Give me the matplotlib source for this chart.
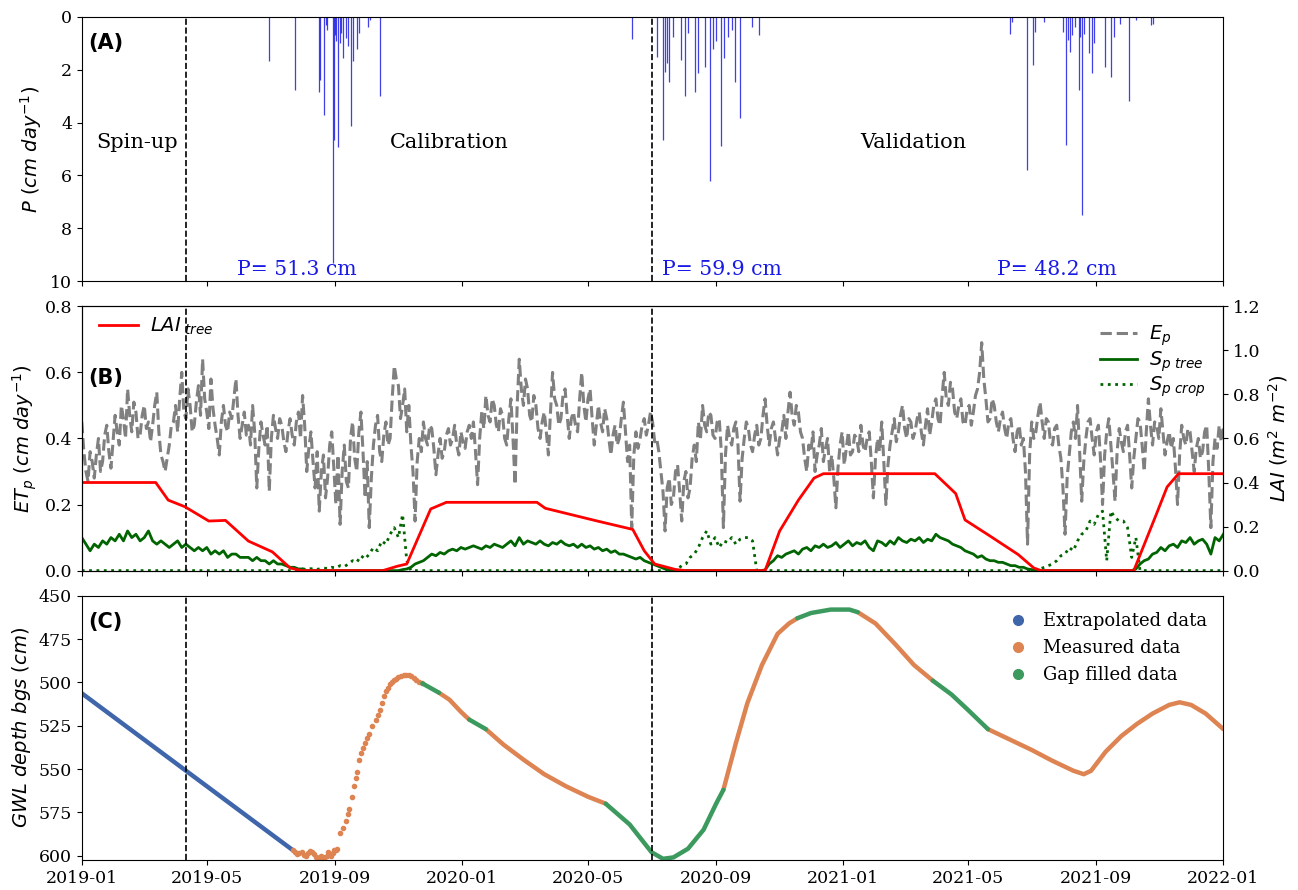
import matplotlib
matplotlib.use("Agg")
import matplotlib.pyplot as plt
import matplotlib.dates as mdates
from matplotlib.lines import Line2D
import pandas as pd

plt.rcParams['font.family'] = ['DejaVu Serif']
plt.rcParams['mathtext.fontset'] = 'dejavusans'
plt.rcParams['axes.unicode_minus'] = False

# ---- (A) daily precipitation, cm/day ----
rain_dates = ['2019-06-30', '2019-07-25', '2019-08-17', '2019-08-18', '2019-08-22', '2019-08-23',
              '2019-08-24', '2019-08-30', '2019-08-31', '2019-09-01', '2019-09-02', '2019-09-04',
              '2019-09-06', '2019-09-07', '2019-09-09', '2019-09-12', '2019-09-14', '2019-09-16',
              '2019-09-18', '2019-09-22', '2019-09-24', '2019-10-03', '2019-10-05', '2019-10-14',
              '2020-06-12', '2020-07-06', '2020-07-12', '2020-07-14', '2020-07-16', '2020-07-18',
              '2020-07-22', '2020-07-29', '2020-08-02', '2020-08-05', '2020-08-12', '2020-08-15',
              '2020-08-21', '2020-08-26', '2020-08-29', '2020-09-01', '2020-09-06', '2020-09-09',
              '2020-09-12', '2020-09-16', '2020-09-19', '2020-09-24', '2020-10-05', '2020-10-12',
              '2021-06-10', '2021-06-12', '2021-06-26', '2021-07-02', '2021-07-04', '2021-07-13',
              '2021-07-31', '2021-08-03', '2021-08-05', '2021-08-07', '2021-08-09', '2021-08-12',
              '2021-08-15', '2021-08-16', '2021-08-18', '2021-08-20', '2021-08-25', '2021-08-28',
              '2021-08-30', '2021-09-09', '2021-09-15', '2021-09-18', '2021-09-24', '2021-10-02',
              '2021-10-09', '2021-10-24', '2021-10-25']
rain = [1.67, 2.77, 2.83, 2.40, 3.71, 0.30,
        0.50, 9.30, 4.65, 0.70, 0.90, 4.94,
        1.00, 0.60, 1.57, 0.80, 1.10, 4.11,
        1.67, 1.23, 0.60, 0.40, 0.10, 3.00,
        0.82, 1.50, 4.65, 2.10, 1.76, 2.45,
        0.75, 1.64, 3.00, 0.60, 2.83, 2.14,
        1.90, 6.20, 1.20, 0.90, 4.90, 1.57,
        0.75, 0.50, 2.45, 3.84, 0.38, 0.70,
        0.63, 0.20, 5.80, 1.82, 0.57, 0.20,
        0.57, 4.84, 0.88, 1.32, 0.70, 0.38,
        2.77, 0.75, 7.50, 0.63, 1.38, 2.14,
        1.00, 1.90, 2.27, 0.75, 0.25, 3.20,
        0.13, 0.30, 0.25]
period_totals = ['P= 51.3 cm', 'P= 59.9 cm', 'P= 48.2 cm']

# ---- (B) potential evaporation, cm/day, every 2 days from 2019-01-01 ----
ep = [0.45, 0.36, 0.30, 0.27, 0.36, 0.33, 0.28, 0.35, 0.40, 0.30, 0.33, 0.41, 0.44, 0.36, 0.31, 0.39, 0.47, 0.42, 0.38, 0.50,
      0.46, 0.40, 0.55, 0.47, 0.42, 0.51, 0.48, 0.40, 0.41, 0.47, 0.50, 0.43, 0.45, 0.39, 0.44, 0.50, 0.54, 0.42, 0.35, 0.33,
      0.30, 0.34, 0.38, 0.44, 0.45, 0.50, 0.42, 0.52, 0.60, 0.48, 0.46, 0.55, 0.50, 0.42, 0.44, 0.51, 0.56, 0.47, 0.64, 0.52,
      0.48, 0.43, 0.58, 0.49, 0.44, 0.40, 0.35, 0.45, 0.50, 0.44, 0.42, 0.48, 0.46, 0.52, 0.58, 0.47, 0.40, 0.44, 0.48, 0.41,
      0.44, 0.38, 0.50, 0.42, 0.25, 0.37, 0.45, 0.41, 0.38, 0.44, 0.24, 0.40, 0.47, 0.43, 0.40, 0.46, 0.44, 0.39, 0.36, 0.42,
      0.46, 0.41, 0.38, 0.45, 0.48, 0.40, 0.53, 0.44, 0.30, 0.37, 0.42, 0.33, 0.25, 0.36, 0.18, 0.30, 0.35, 0.22, 0.28, 0.38,
      0.42, 0.31, 0.20, 0.35, 0.14, 0.30, 0.38, 0.27, 0.25, 0.40, 0.45, 0.34, 0.30, 0.42, 0.48, 0.36, 0.22, 0.33, 0.13, 0.28,
      0.38, 0.44, 0.47, 0.36, 0.33, 0.41, 0.45, 0.38, 0.40, 0.52, 0.62, 0.58, 0.56, 0.46, 0.50, 0.55, 0.42, 0.50, 0.38, 0.30,
      0.15, 0.33, 0.40, 0.36, 0.45, 0.40, 0.38, 0.44, 0.43, 0.37, 0.29, 0.35, 0.40, 0.34, 0.36, 0.41, 0.43, 0.38, 0.40, 0.44,
      0.38, 0.35, 0.42, 0.39, 0.37, 0.42, 0.44, 0.40, 0.45, 0.36, 0.26, 0.40, 0.48, 0.43, 0.53, 0.47, 0.45, 0.52, 0.50, 0.44,
      0.42, 0.49, 0.47, 0.40, 0.38, 0.46, 0.52, 0.40, 0.26, 0.50, 0.64, 0.55, 0.50, 0.58, 0.55, 0.47, 0.45, 0.53, 0.50, 0.43,
      0.40, 0.45, 0.48, 0.42, 0.35, 0.48, 0.60, 0.52, 0.50, 0.44, 0.46, 0.53, 0.55, 0.47, 0.40, 0.46, 0.48, 0.44, 0.42, 0.52,
      0.60, 0.50, 0.45, 0.52, 0.55, 0.46, 0.38, 0.44, 0.50, 0.45, 0.42, 0.49, 0.46, 0.40, 0.35, 0.41, 0.44, 0.38, 0.40, 0.46,
      0.51, 0.42, 0.33, 0.38, 0.13, 0.35, 0.42, 0.37, 0.40, 0.44, 0.46, 0.41, 0.44, 0.48, 0.45, 0.39, 0.40, 0.36, 0.30, 0.24,
      0.12, 0.25, 0.28, 0.20, 0.22, 0.30, 0.32, 0.24, 0.15, 0.27, 0.30, 0.22, 0.25, 0.34, 0.38, 0.33, 0.45, 0.40, 0.50, 0.44,
      0.42, 0.48, 0.47, 0.41, 0.40, 0.45, 0.46, 0.36, 0.13, 0.35, 0.44, 0.40, 0.38, 0.43, 0.45, 0.38, 0.21, 0.34, 0.40, 0.45,
      0.43, 0.38, 0.36, 0.41, 0.44, 0.38, 0.40, 0.47, 0.52, 0.44, 0.38, 0.43, 0.45, 0.40, 0.35, 0.40, 0.42, 0.47, 0.40, 0.48,
      0.54, 0.47, 0.44, 0.50, 0.48, 0.42, 0.40, 0.34, 0.30, 0.38, 0.36, 0.42, 0.30, 0.35, 0.38, 0.43, 0.33, 0.37, 0.40, 0.30,
      0.35, 0.28, 0.19, 0.31, 0.38, 0.42, 0.32, 0.37, 0.42, 0.35, 0.36, 0.41, 0.40, 0.36, 0.44, 0.38, 0.36, 0.40, 0.42, 0.33,
      0.22, 0.34, 0.40, 0.36, 0.45, 0.33, 0.20, 0.32, 0.38, 0.42, 0.46, 0.39, 0.42, 0.47, 0.50, 0.43, 0.40, 0.46, 0.45, 0.40,
      0.42, 0.46, 0.48, 0.42, 0.38, 0.44, 0.49, 0.41, 0.45, 0.50, 0.52, 0.46, 0.44, 0.53, 0.60, 0.52, 0.50, 0.57, 0.55, 0.48,
      0.46, 0.50, 0.52, 0.45, 0.44, 0.49, 0.50, 0.44, 0.48, 0.53, 0.55, 0.60, 0.69, 0.58, 0.52, 0.45, 0.46, 0.52, 0.50, 0.45,
      0.42, 0.46, 0.48, 0.43, 0.40, 0.45, 0.46, 0.40, 0.36, 0.42, 0.44, 0.38, 0.40, 0.30, 0.08, 0.35, 0.45, 0.40, 0.42, 0.47,
      0.51, 0.45, 0.40, 0.46, 0.45, 0.39, 0.38, 0.43, 0.44, 0.38, 0.34, 0.25, 0.11, 0.28, 0.35, 0.42, 0.45, 0.40, 0.50, 0.36,
      0.21, 0.33, 0.40, 0.45, 0.46, 0.40, 0.35, 0.42, 0.44, 0.34, 0.20, 0.35, 0.42, 0.46, 0.38, 0.30, 0.21, 0.36, 0.43, 0.39,
      0.36, 0.42, 0.44, 0.35, 0.25, 0.34, 0.40, 0.46, 0.45, 0.38, 0.30, 0.42, 0.52, 0.44, 0.38, 0.45, 0.44, 0.40, 0.49, 0.42,
      0.35, 0.39, 0.42, 0.37, 0.40, 0.31, 0.20, 0.35, 0.44, 0.40, 0.38, 0.43, 0.42, 0.36, 0.30, 0.37, 0.40, 0.34, 0.36, 0.42,
      0.44, 0.30, 0.13, 0.33, 0.40, 0.37, 0.44, 0.39, 0.43]

# potential transpiration of trees and crop, cm/day, every 4 days from 2019-01-01
sp_tree = [0.10, 0.08, 0.06, 0.08, 0.07, 0.09, 0.08, 0.10, 0.09, 0.11,
           0.09, 0.12, 0.10, 0.11, 0.09, 0.10, 0.12, 0.09, 0.08, 0.09,
           0.08, 0.07, 0.08, 0.09, 0.07, 0.08, 0.07, 0.06, 0.07, 0.06,
           0.07, 0.05, 0.06, 0.05, 0.06, 0.04, 0.05, 0.05, 0.04, 0.04,
           0.04, 0.03, 0.04, 0.03, 0.03, 0.02, 0.03, 0.02, 0.02, 0.015,
           0.01, 0.01, 0.005, 0.005, 0, 0, 0, 0, 0, 0,
           0, 0, 0, 0, 0, 0, 0, 0, 0, 0,
           0, 0, 0, 0, 0, 0, 0, 0.003, 0.005, 0.01,
           0.02, 0.025, 0.03, 0.04, 0.05, 0.045, 0.055, 0.05, 0.06, 0.065,
           0.06, 0.07, 0.065, 0.07, 0.075, 0.07, 0.065, 0.075, 0.07, 0.08,
           0.075, 0.07, 0.08, 0.09, 0.075, 0.10, 0.08, 0.09, 0.085, 0.08,
           0.09, 0.08, 0.075, 0.085, 0.08, 0.09, 0.08, 0.075, 0.08, 0.07,
           0.08, 0.07, 0.075, 0.065, 0.07, 0.06, 0.065, 0.055, 0.06, 0.05,
           0.05, 0.045, 0.04, 0.035, 0.04, 0.03, 0.025, 0.02, 0.015, 0.01,
           0.005, 0.002, 0, 0, 0, 0, 0, 0, 0, 0,
           0, 0, 0, 0, 0, 0, 0, 0, 0, 0,
           0, 0, 0, 0, 0.002, 0.02, 0.03, 0.045, 0.04, 0.05,
           0.055, 0.06, 0.05, 0.065, 0.07, 0.06, 0.075, 0.07, 0.08, 0.07,
           0.075, 0.085, 0.07, 0.08, 0.09, 0.075, 0.085, 0.08, 0.09, 0.07,
           0.06, 0.09, 0.085, 0.075, 0.09, 0.08, 0.10, 0.09, 0.085, 0.095,
           0.09, 0.10, 0.085, 0.095, 0.09, 0.11, 0.10, 0.095, 0.09, 0.08,
           0.075, 0.07, 0.06, 0.055, 0.05, 0.04, 0.045, 0.035, 0.03, 0.03,
           0.025, 0.025, 0.02, 0.015, 0.015, 0.01, 0.01, 0.005, 0.003, 0,
           0, 0, 0, 0, 0, 0, 0, 0, 0, 0,
           0, 0, 0, 0, 0, 0, 0, 0, 0, 0,
           0, 0, 0, 0.005, 0.02, 0.03, 0.035, 0.05, 0.055, 0.07,
           0.06, 0.075, 0.08, 0.07, 0.09, 0.085, 0.10, 0.08, 0.09, 0.095,
           0.08, 0.05, 0.10, 0.09, 0.11]
sp_crop = [0] * 50 + \
          [0, 0, 0.003, 0.005, 0.004, 0.006, 0.003, 0.005, 0.008, 0.006,
           0.01, 0.008, 0.015, 0.012, 0.02, 0.03, 0.025, 0.045, 0.035, 0.05,
           0.07, 0.06, 0.09, 0.08, 0.11, 0.13, 0.10, 0.17, 0.03, 0] + \
          [0] * 60 + \
          [0, 0, 0.002, 0.005, 0.015, 0.02, 0.04, 0.05, 0.07, 0.10,
           0.12, 0.08, 0.10, 0.07, 0.09, 0.085, 0.10, 0.08, 0.095, 0.10,
           0.10, 0.09, 0, 0, 0, 0, 0, 0, 0, 0] + \
          [0] * 59 + \
          [0.003,
           0.005, 0.01, 0.015, 0.02, 0.03, 0.045, 0.05, 0.07, 0.06, 0.09,
           0.11, 0.12, 0.15, 0.14, 0.17, 0.18, 0.03, 0.18, 0.16, 0.15,
           0.15, 0.13, 0.04, 0.10, 0] + \
          [0] * 20

# tree leaf area index (m2/m2), right axis
lai_dates = ['2019-01-01', '2019-03-13', '2019-03-25', '2019-04-10', '2019-05-03', '2019-05-19',
             '2019-06-10', '2019-07-03', '2019-07-20', '2019-07-31', '2019-10-17', '2019-10-31',
             '2019-11-09', '2019-12-02', '2019-12-17', '2020-03-13', '2020-03-21', '2020-05-10',
             '2020-06-13', '2020-06-24', '2020-07-04', '2020-07-24', '2020-08-03', '2020-10-18',
             '2020-11-01', '2020-11-19', '2020-12-04', '2020-12-13', '2021-03-30', '2021-04-19',
             '2021-04-28', '2021-05-21', '2021-06-18', '2021-07-03', '2021-07-10', '2021-10-07',
             '2021-10-18', '2021-10-29', '2021-11-08', '2021-11-19', '2022-01-01']
lai = [0.40, 0.40, 0.32, 0.29, 0.225, 0.228,
       0.134, 0.085, 0.012, 0.0, 0.0, 0.02,
       0.03, 0.28, 0.31, 0.31, 0.283, 0.225,
       0.187, 0.09, 0.03, 0.005, 0.0, 0.0,
       0.18, 0.32, 0.42, 0.44, 0.44, 0.35,
       0.23, 0.16, 0.073, 0.012, 0.0, 0.0,
       0.13, 0.26, 0.38, 0.44, 0.44]

# ---- (C) groundwater level depth below ground surface, cm ----
gw_extrap_dates = ['2019-01-01', '2019-07-23']
gw_extrap = [506.3, 597.0]

gw_meas_dates = [
    ['2019-07-23', '2019-07-25', '2019-07-27', '2019-07-29', '2019-07-31', '2019-08-02', '2019-08-04',
     '2019-08-06', '2019-08-08', '2019-08-10', '2019-08-12', '2019-08-14', '2019-08-16', '2019-08-18',
     '2019-08-19', '2019-08-21', '2019-08-22', '2019-08-24', '2019-08-25', '2019-08-27', '2019-08-28',
     '2019-08-30', '2019-08-31', '2019-09-02', '2019-09-03', '2019-09-06', '2019-09-09', '2019-09-12',
     '2019-09-14', '2019-09-15', '2019-09-17', '2019-09-19', '2019-09-21', '2019-09-22', '2019-09-24',
     '2019-09-26', '2019-09-28', '2019-09-30', '2019-10-02', '2019-10-04', '2019-10-07', '2019-10-10',
     '2019-10-12', '2019-10-14', '2019-10-16', '2019-10-18', '2019-10-20', '2019-10-22', '2019-10-24',
     '2019-10-26', '2019-10-28', '2019-10-30', '2019-11-01', '2019-11-03', '2019-11-06', '2019-11-08',
     '2019-11-11', '2019-11-13', '2019-11-16', '2019-11-18', '2019-11-21', '2019-11-24'],
    ['2019-12-10', '2019-12-20', '2019-12-31', '2020-01-08'],
    ['2020-01-24', '2020-02-10', '2020-03-01', '2020-03-20', '2020-04-10', '2020-05-01', '2020-05-18'],
    ['2020-09-08', '2020-09-20', '2020-10-01', '2020-10-15', '2020-10-30', '2020-11-10', '2020-11-18'],
    ['2021-01-15', '2021-02-01', '2021-02-20', '2021-03-10', '2021-03-28'],
    ['2021-05-20', '2021-06-10', '2021-07-01', '2021-07-20', '2021-08-10', '2021-08-20', '2021-08-27',
     '2021-09-10', '2021-09-25', '2021-10-10', '2021-10-25', '2021-11-10', '2021-11-20', '2021-12-01',
     '2021-12-15', '2022-01-01'],
]
gw_meas = [
    [597.0, 598.0, 599.0, 598.5, 598.0, 599.5, 600.0,
     598.5, 597.5, 598.0, 599.0, 600.5, 601.5, 600.5,
     600.0, 601.0, 602.0, 600.0, 598.0, 599.0, 600.0,
     598.5, 597.0, 596.5, 596.0, 587.0, 584.0, 580.0,
     576.0, 573.0, 566.0, 560.0, 555.0, 552.0, 545.0,
     541.0, 538.0, 535.0, 532.0, 530.0, 525.0, 522.0,
     519.0, 516.0, 512.0, 508.0, 505.0, 503.0, 501.0,
     499.6, 498.5, 498.0, 497.0, 496.5, 496.0, 495.8,
     496.0, 496.5, 497.5, 498.5, 499.5, 500.6],
    [506.0, 510.0, 517.0, 521.5],
    [527.0, 536.0, 545.0, 553.0, 560.0, 566.0, 570.0],
    [562.0, 535.0, 512.0, 490.0, 472.0, 466.0, 463.0],
    [459.5, 466.0, 478.0, 490.0, 499.0],
    [527.0, 533.0, 539.0, 545.0, 551.0, 553.0, 551.0,
     540.0, 531.0, 524.0, 518.0, 513.0, 511.5, 513.0,
     518.0, 527.0],
]
gw_gap_dates = [
    ['2019-11-24', '2019-12-10'],
    ['2020-01-08', '2020-01-24'],
    ['2020-05-18', '2020-06-10', '2020-07-01', '2020-07-12', '2020-07-22', '2020-08-05', '2020-08-20',
     '2020-09-01', '2020-09-08'],
    ['2020-11-18', '2020-12-01', '2020-12-20', '2021-01-07', '2021-01-15'],
    ['2021-03-28', '2021-04-15', '2021-05-01', '2021-05-20'],
]
gw_gap = [
    [500.6, 506.0],
    [521.5, 527.0],
    [570.0, 582.0, 598.0, 601.8, 601.0, 596.0, 585.0, 570.0, 562.0],
    [463.0, 460.0, 458.0, 458.0, 459.5],
    [499.0, 507.0, 516.0, 527.0],
]

period_breaks = ['2019-04-11', '2020-07-01']

c_extrap, c_meas, c_gap = '#3f66aa', '#dd8452', '#3c9a5f'

fig, (ax1, ax2, ax3) = plt.subplots(3, 1, figsize=(12.98, 8.9), dpi=100, sharex=True)
fig.subplots_adjust(left=0.063, right=0.9425, top=0.981, bottom=0.0337, hspace=0.095)

tick_fs = 12.5
lab_fs = 14

# (A) precipitation hanging from the top
ax1.vlines(pd.to_datetime(rain_dates), 0, rain, color='#1010e0', lw=0.9, alpha=0.8)
ax1.set_ylim(10, 0)
ax1.set_yticks([0, 2, 4, 6, 8, 10])
ax1.set_ylabel(r'$P\ (cm\ day^{-1})$', fontsize=lab_fs)
ax1.text(pd.Timestamp('2019-02-23'), 4.75, 'Spin-up', fontsize=15, ha='center', va='center')
ax1.text(pd.Timestamp('2019-12-20'), 4.75, 'Calibration', fontsize=15, ha='center', va='center')
ax1.text(pd.Timestamp('2021-03-09'), 4.75, 'Validation', fontsize=15, ha='center', va='center')
for d, s in zip(['2019-07-26', '2020-09-07', '2021-07-25'], period_totals):
    ax1.text(pd.Timestamp(d), 9.55, s, fontsize=14.7, color='#1a1ae6', ha='center', va='center')

# (B) potential evaporation / transpiration and LAI
ep_dates = pd.date_range('2019-01-01', periods=len(ep), freq='2D')
sp_dates = pd.date_range('2019-01-01', periods=len(sp_tree), freq='4D')
ax2.plot(ep_dates, ep, color='grey', ls='--', lw=2.2, label=r'$E_p$')
ax2.plot(sp_dates, sp_tree, color='darkgreen', lw=2, label=r'$S_{p\ tree}$')
ax2.plot(sp_dates, sp_crop, color='darkgreen', ls=':', lw=2, label=r'$S_{p\ crop}$')
ax2.set_ylim(0, 0.8)
ax2.set_yticks([0.0, 0.2, 0.4, 0.6, 0.8])
ax2.set_ylabel(r'$ET_p\ (cm\ day^{-1})$', fontsize=lab_fs)
ax2.legend(loc='upper right', frameon=False, fontsize=14, handlelength=1.9, handletextpad=0.6,
           labelspacing=0.05, bbox_to_anchor=(1.0, 1.0))
ax2r = ax2.twinx()
ax2r.plot(pd.to_datetime(lai_dates), lai, color='red', lw=2, label=r'$LAI_{\ tree}$')
ax2r.set_ylim(0, 1.2)
ax2r.set_yticks([0.0, 0.2, 0.4, 0.6, 0.8, 1.0, 1.2])
ax2r.set_ylabel(r'$LAI\ (m^2\ m^{-2})$', fontsize=lab_fs)
ax2r.tick_params(labelsize=tick_fs)
ax2r.legend(loc='upper left', frameon=False, fontsize=14, handlelength=2.0, handletextpad=0.6,
            bbox_to_anchor=(0.0, 1.03))

# (C) groundwater depth
ax3.plot(pd.to_datetime(gw_extrap_dates), gw_extrap, color=c_extrap, lw=3.2, solid_capstyle='round')
for k, (d, v) in enumerate(zip(gw_meas_dates, gw_meas)):
    if k == 0:
        ax3.plot(pd.to_datetime(d), v, 'o', color=c_meas, ms=3)
    else:
        ax3.plot(pd.to_datetime(d), v, color=c_meas, lw=3.2, solid_capstyle='round')
for d, v in zip(gw_gap_dates, gw_gap):
    ax3.plot(pd.to_datetime(d), v, color=c_gap, lw=3.2, solid_capstyle='round')
ax3.set_ylim(602.5, 450)
ax3.set_yticks([450, 475, 500, 525, 550, 575, 600])
ax3.set_ylabel(r'$GWL\ depth\ bgs\ (cm)$', fontsize=lab_fs)
handles = [Line2D([], [], ls='none', marker='o', ms=7, color=c) for c in (c_extrap, c_meas, c_gap)]
ax3.legend(handles, ['Extrapolated data', 'Measured data', 'Gap filled data'], loc='upper right',
           frameon=False, fontsize=13, handletextpad=0.4, borderaxespad=0.5)

tag_y = {'(A)': 0.9, '(B)': 0.73, '(C)': 0.9}
for ax, tag in zip((ax1, ax2, ax3), ('(A)', '(B)', '(C)')):
    for d in period_breaks:
        ax.axvline(pd.Timestamp(d), color='black', ls='--', lw=1.2, zorder=5)
    ax.text(0.006, tag_y[tag], tag, transform=ax.transAxes, fontsize=15, fontweight='bold',
            family='DejaVu Sans', va='center')
    ax.tick_params(labelsize=tick_fs)

ax3.set_xlim(pd.Timestamp('2019-01-01'), pd.Timestamp('2022-01-01'))
ax3.xaxis.set_major_locator(mdates.MonthLocator(bymonth=[1, 5, 9]))
ax3.xaxis.set_major_formatter(mdates.DateFormatter('%Y-%m'))

fig.savefig('out.png', dpi=100)
